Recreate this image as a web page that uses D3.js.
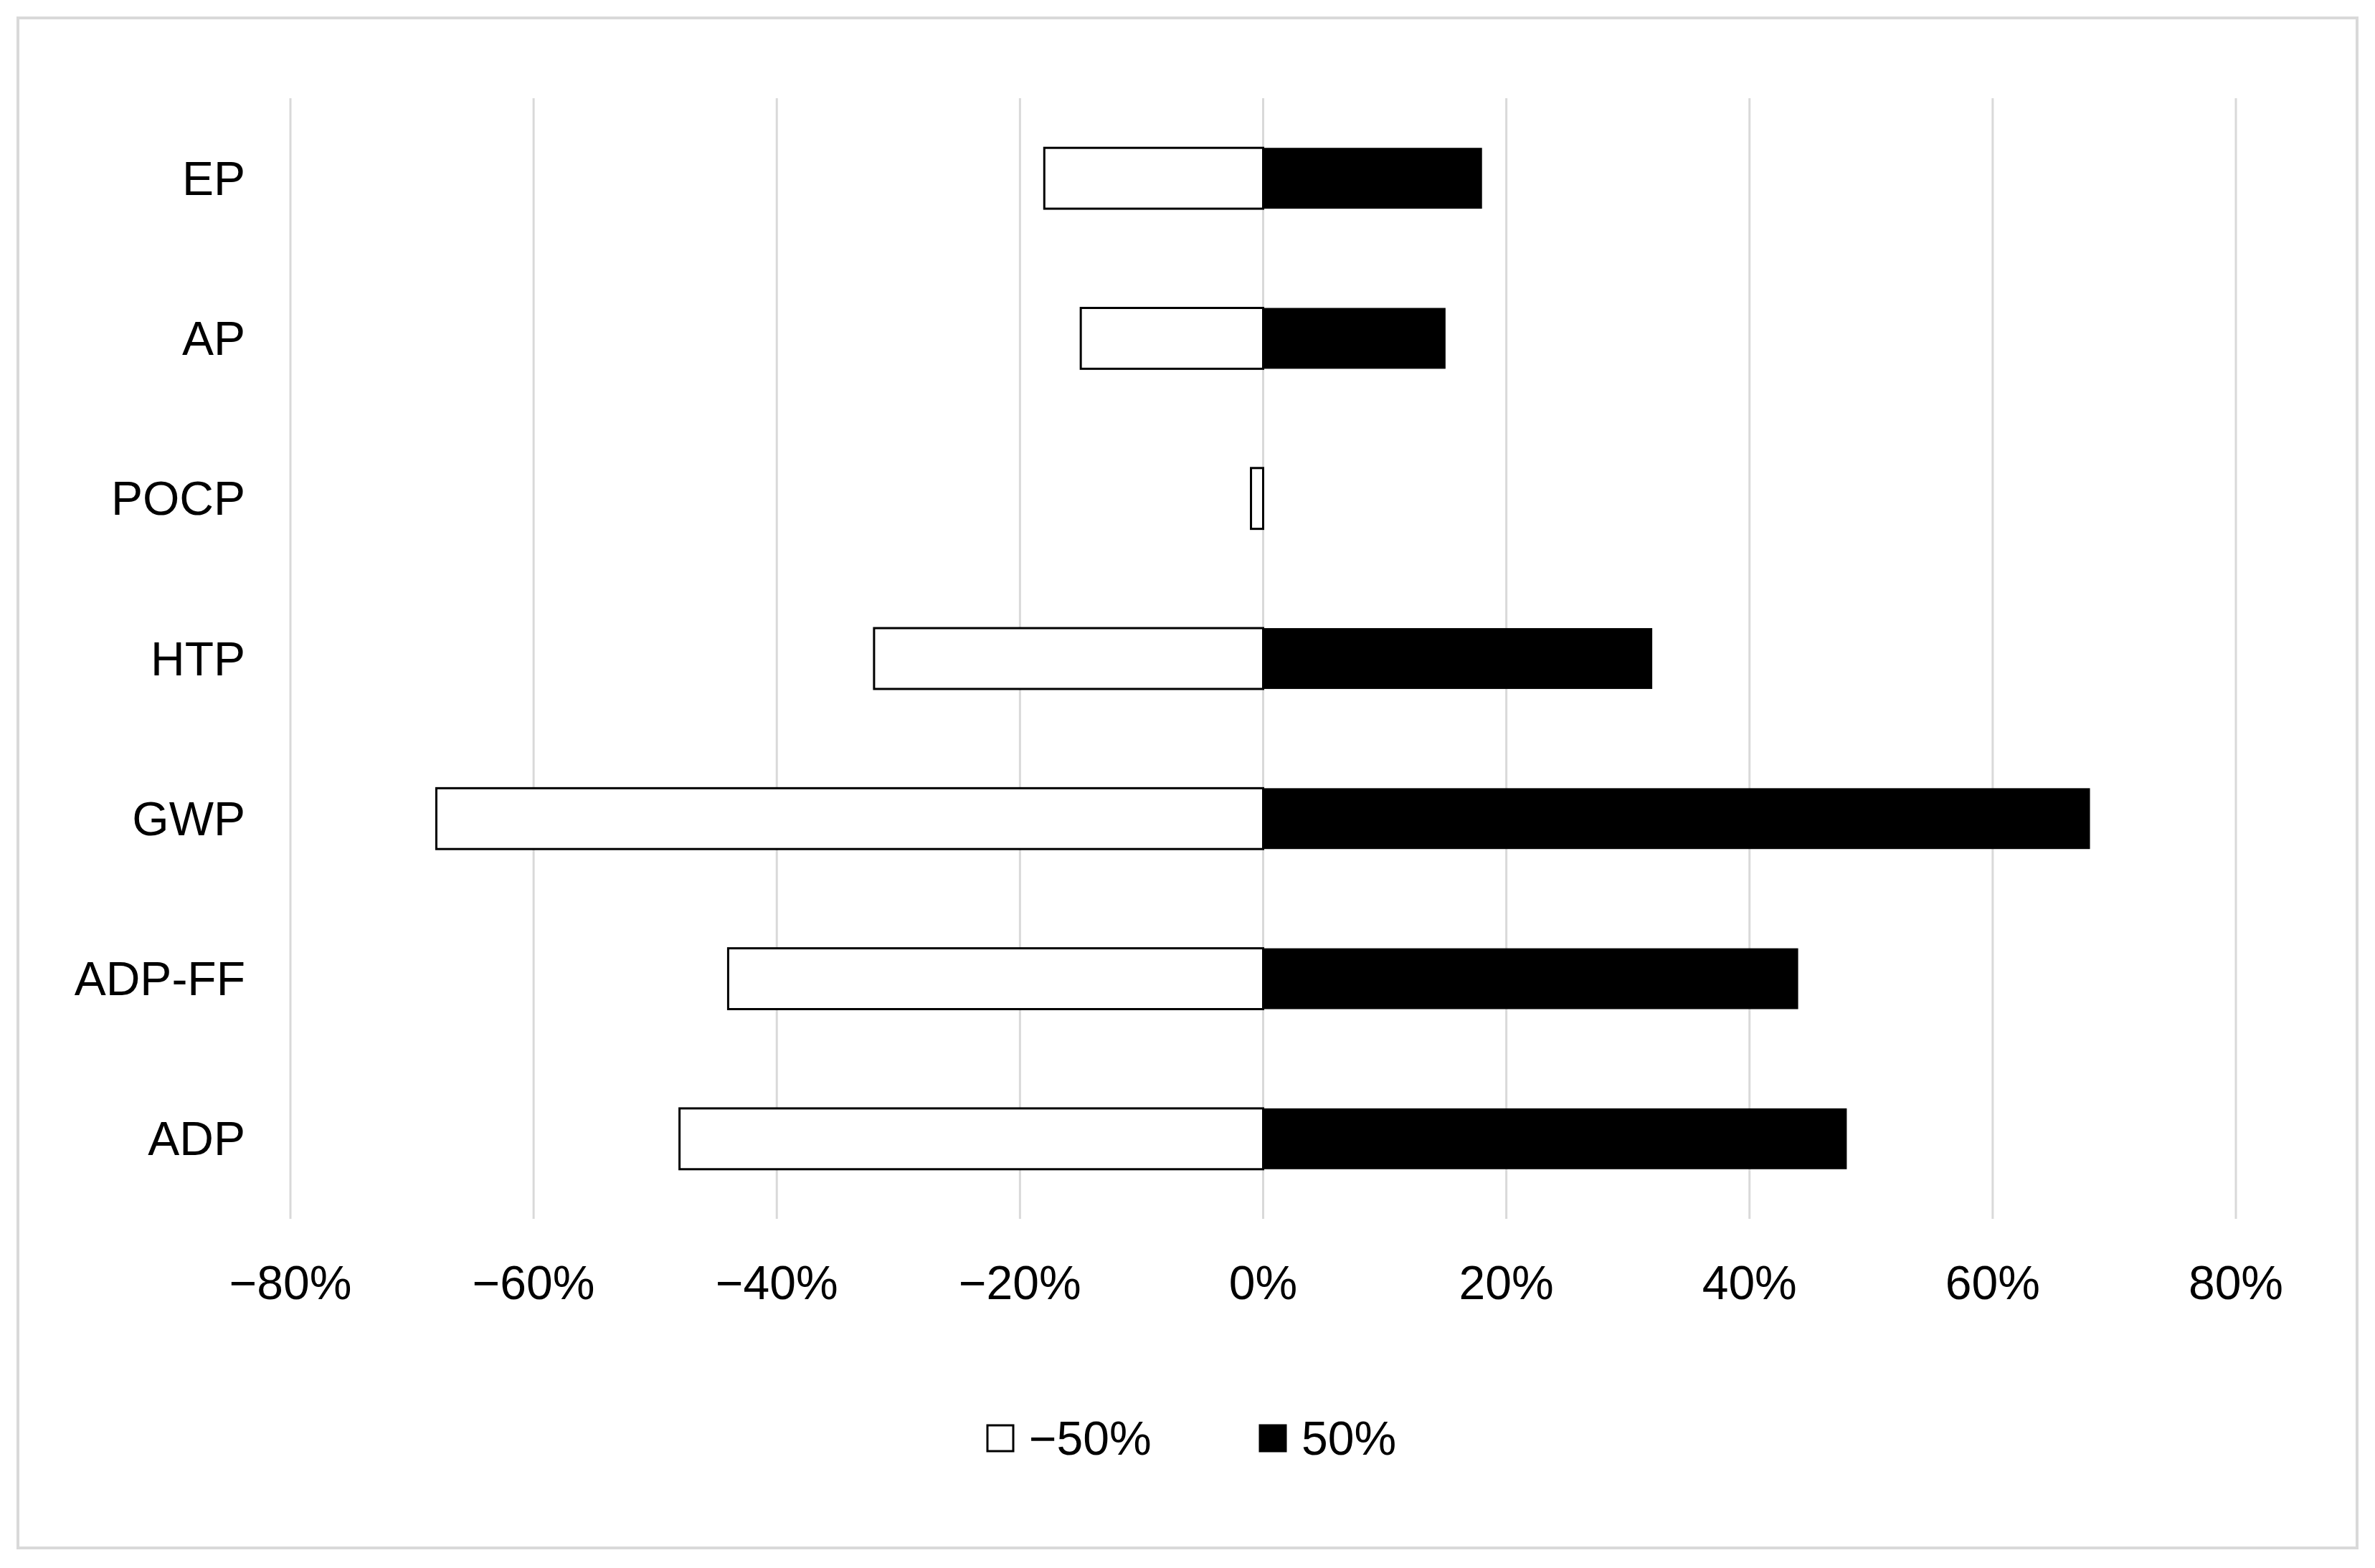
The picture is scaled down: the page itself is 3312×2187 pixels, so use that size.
<!DOCTYPE html>
<html>
<head>
<meta charset="utf-8">
<script src="https://cdn.jsdelivr.net/npm/d3@7"></script>
<style>
  body { margin: 0; background: #fff; }
  text { font-family: "Liberation Sans Narrow", "Arial Narrow", "Liberation Sans", sans-serif; fill: #000; }
</style>
</head>
<body>
<div id="vis"></div>
<script>
// chart data
var categories = ['EP', 'AP', 'POCP', 'HTP', 'GWP', 'ADP-FF', 'ADP'];
var minus50 = [-18, -15, -1, -32, -68, -44, -48];
var plus50 = [18, 15, 0, 32, 68, 44, 48];
var tickValues = [-80, -60, -40, -20, 0, 20, 40, 60, 80];
var seriesNames = ['\u221250%', '50%'];

var width = 3312, height = 2187;

var svg = d3.select('#vis').append('svg')
  .attr('width', width)
  .attr('height', height);

// outer frame
svg.append('rect')
  .attr('x', 25).attr('y', 25)
  .attr('width', 3262).attr('height', 2134)
  .attr('fill', 'none').attr('stroke', '#d9d9d9').attr('stroke-width', 4);

var x = d3.scaleLinear().domain([-80, 80]).range([405, 3118]);
var y = d3.scaleBand().domain(categories).range([137, 1700]).paddingInner(0.62).paddingOuter(0.31);

// gridlines
svg.selectAll('.grid').data(tickValues).enter().append('line')
  .attr('x1', d => x(d)).attr('x2', d => x(d))
  .attr('y1', 137).attr('y2', 1700)
  .attr('stroke', '#d9d9d9').attr('stroke-width', 3);

// tick labels
svg.selectAll('.tick').data(tickValues).enter().append('text')
  .attr('x', d => x(d)).attr('y', 1812)
  .attr('text-anchor', 'middle')
  .attr('font-size', 66)
  .text(d => (d < 0 ? '\u2212' + Math.abs(d) : d) + '%');

// category labels
svg.selectAll('.cat').data(categories).enter().append('text')
  .attr('x', 342).attr('y', d => y(d) + y.bandwidth() / 2)
  .attr('dy', '0.35em')
  .attr('text-anchor', 'end')
  .attr('font-size', 66)
  .text(d => d);

// -50% bars (white)
svg.selectAll('.neg').data(minus50).enter().append('rect')
  .attr('x', d => x(Math.min(0, d)))
  .attr('y', (d, i) => y(categories[i]))
  .attr('width', d => Math.abs(x(d) - x(0)))
  .attr('height', y.bandwidth())
  .attr('fill', '#fff').attr('stroke', '#000').attr('stroke-width', 3);

// 50% bars (black)
svg.selectAll('.pos').data(plus50).enter().append('rect')
  .attr('x', d => x(Math.min(0, d)))
  .attr('y', (d, i) => y(categories[i]))
  .attr('width', d => Math.abs(x(d) - x(0)))
  .attr('height', y.bandwidth())
  .attr('fill', '#000');

// legend
var legend = [{ name: seriesNames[0], fill: '#fff', x: 1377 }, { name: seriesNames[1], fill: '#000', x: 1757 }];
var lg = svg.selectAll('.legend').data(legend).enter().append('g')
  .attr('transform', d => 'translate(' + d.x + ',2006)');
lg.append('rect')
  .attr('x', 0).attr('y', -18).attr('width', 36).attr('height', 36)
  .attr('fill', d => d.fill).attr('stroke', '#000').attr('stroke-width', 3);
lg.append('text')
  .attr('x', 58).attr('dy', '0.35em')
  .attr('font-size', 66)
  .text(d => d.name);
</script>
</body>
</html>
